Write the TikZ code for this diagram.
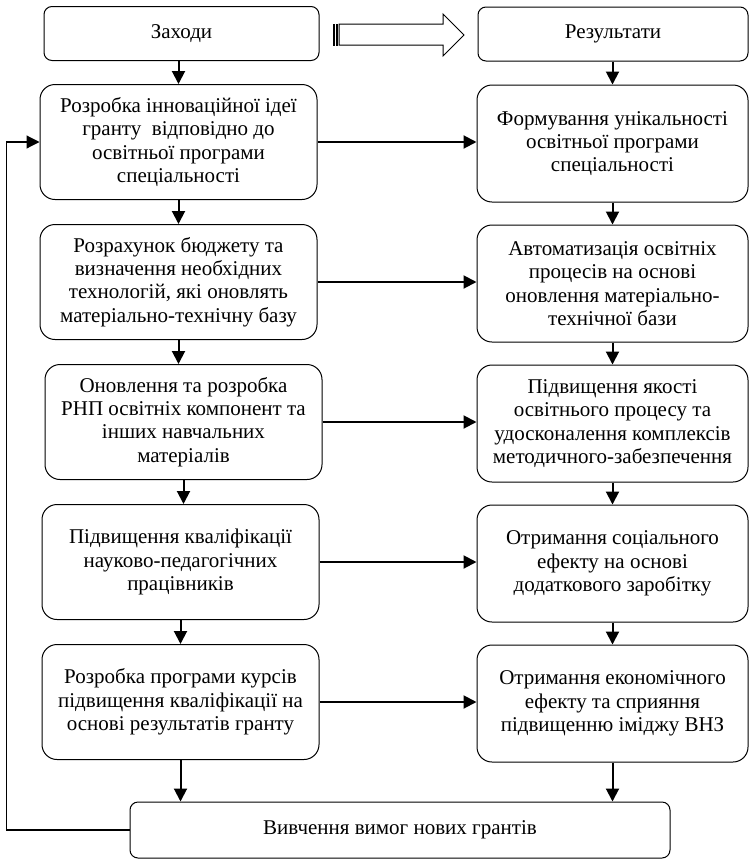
\documentclass[tikz,border=0pt]{standalone}
\usepackage{fontspec}
\setmainfont{Liberation Serif}
\usetikzlibrary{positioning, arrows.meta}

\begin{document}
\begin{tikzpicture}[
    x=1pt, y=-1pt,
    >={Triangle[length=13pt,width=13pt]},
    node distance=140pt,
    on grid,
    every node/.style={font=\fontsize{21}{23.3}\selectfont},
    box/.style={
        draw,
        line width=1pt,
        rounded corners=15pt,
        align=center,
        inner sep=0pt
    },
    leftbox/.style={box, minimum width=277pt, minimum height=115pt},
    rightbox/.style={box, minimum width=271pt, minimum height=117pt},
    headbox/.style={draw, line width=1pt, rounded corners=8pt, minimum height=54pt},
    flow/.style={->, line width=2pt}
]
\useasboundingbox (0,0) rectangle (750,860);

% headers
\node[headbox, minimum width=275pt] (zah) at (181.5,33.5) {Заходи};
\node[headbox, minimum width=270pt] (rez) at (613,34) {Результати};
\draw[line width=1pt, fill=white] (339,24) -- (443,24) -- (443,14) -- (464,35)
    -- (443,56) -- (443,45) -- (339,45) -- cycle;
\draw[line width=0.8pt] (333,24) rectangle (334.5,45) (336,24) rectangle (337.5,45);

% measures
\node[leftbox] (L1) at (178.5,142) {Розробка інноваційної ідеї\\ гранту\ \ відповідно до\\ освітньої програми\\ спеціальності};
\node[leftbox, below=of L1] (L2) {Розрахунок бюджету та\\ визначення необхідних\\ технологій, які оновлять\\ матеріально-технічну базу};
\node[leftbox, below=of L2, xshift=5pt] (L3) {Оновлення та розробка\\ РНП освітніх компонент та\\ інших навчальних\\ матеріалів};
\node[leftbox, below=of L3, xshift=-3pt] (L4) {Підвищення кваліфікації\\ науково-педагогічних\\ працівників};
\node[leftbox, below=of L4] (L5) {Розробка програми курсів\\ підвищення кваліфікації на\\ основі результатів гранту};

% results
\node[rightbox] (R1) at (612.5,143.5) {Формування унікальності\\ освітньої програми\\ спеціальності};
\node[rightbox, below=of R1] (R2) {Автоматизація освітніх\\ процесів на основі\\ оновлення матеріально-\\ технічної бази};
\node[rightbox, below=of R2] (R3) {Підвищення якості\\ освітнього процесу та\\ удосконалення комплексів\\ методичного-забезпечення};
\node[rightbox, below=of R3] (R4) {Отримання соціального\\ ефекту на основі\\ додаткового заробітку};
\node[rightbox, below=of R4] (R5) {Отримання економічного\\ ефекту та сприяння\\ підвищенню іміджу ВНЗ};

\node[headbox, minimum width=540pt, minimum height=56pt] (grant) at (400,830) {Вивчення вимог нових грантів};

% arrows
\draw[flow] (L1.north |- zah.south) -- (L1.north);
\draw[flow] (R1.north |- rez.south) -- (R1.north);
\foreach \a/\b in {L1/L2, L2/L3, L3/L4, L4/L5, L5/grant, R1/R2, R2/R3, R3/R4, R4/R5, R5/grant}
    \draw[flow] (\a.south) -- (\a.south |- \b.north);
\foreach \i in {1,...,5}
    \draw[flow] (L\i.east) -- (L\i.east -| R\i.west);
\draw[->, line width=1.2pt] (grant.west) -- ++(-123,0) |- (L1.west);
\end{tikzpicture}
\end{document}
